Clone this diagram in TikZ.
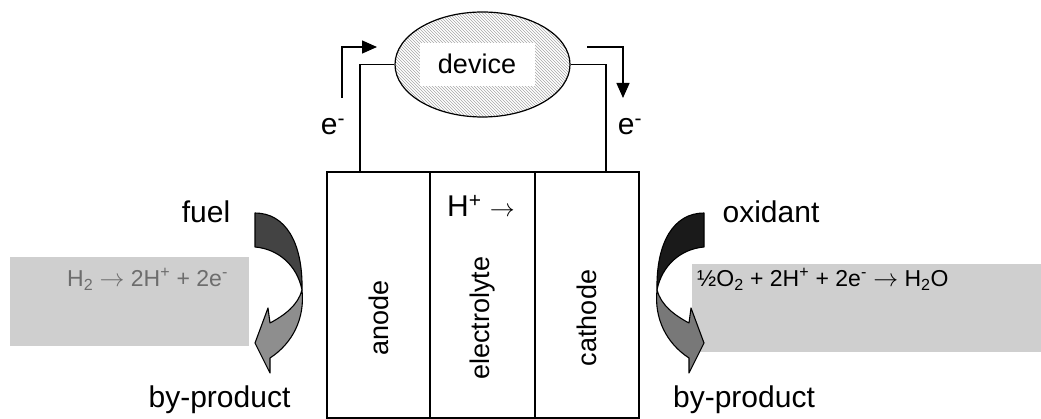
\documentclass[tikz,border=0pt]{standalone}
\usepackage{fontspec}
\setmainfont{Liberation Sans}
\usetikzlibrary{patterns,arrows.meta,shapes.geometric}
\definecolor{boxgray}{HTML}{CFCFCF}
\definecolor{eqgray}{HTML}{6D6D6D}
\definecolor{fueldark}{HTML}{434343}
\definecolor{fuellight}{HTML}{8E8E8E}
\definecolor{oxdark}{HTML}{1A1A1A}
\definecolor{oxlight}{HTML}{787878}
\newcommand\bigf{\fontsize{30}{36}\selectfont}
\newcommand\midf{\fontsize{27}{32}\selectfont}
\newcommand\eqf{\fontsize{23}{27}\selectfont}
\newcommand\fuelcellarrow[2]{%
  \filldraw[fill=#1, curv] (255,213) .. controls (285,213) and (303,242) .. (302,290)
     .. controls (297,265) and (278,249) .. (255,247) -- cycle;
  \filldraw[fill=#2, curv] (302,290) .. controls (305,318) and (293,343) .. (270,358)
     -- (270,373) -- (255,343) -- (268,308) -- (270,323)
     .. controls (285,315) and (298,305) .. (302,290) -- cycle;}
\begin{document}
\begin{tikzpicture}[x=1pt,y=-1pt,
  wire/.style={line width=1.4pt},
  col/.style={draw, line width=1.4pt, minimum height=246pt, inner sep=0pt},
  curv/.style={line width=1.1pt, line join=round},
  eboxl/.style={fill=boxgray, inner sep=0pt},
  lab/.style={font=\bigf, inner sep=0pt},
  etip/.style={-{Triangle[length=15pt,width=13pt]}}]
\useasboundingbox (0,0) rectangle (1041,419);
% grey reaction boxes
\node[eboxl, minimum width=239pt, minimum height=89pt] (leftbox) at (129.5,301.5) {};
\node[eboxl, minimum width=349pt, minimum height=88pt] (rightbox) at (866.5,308) {};
\node[anchor=base west, inner sep=0pt, font=\eqf, text=eqgray] (lefteq) at (67,287)
  {H\textsubscript{2} $\rightarrow$ 2H\textsuperscript{+} + 2e\textsuperscript{-}};
\node[anchor=base west, inner sep=0pt, font=\eqf] (righteq) at (697,287)
  {½O\textsubscript{2} + 2H\textsuperscript{+} + 2e\textsuperscript{-} $\rightarrow$ H\textsubscript{2}O};
% curved arrows
\fuelcellarrow{fueldark}{fuellight}
\begin{scope}[xshift=959pt, xscale=-1]
\fuelcellarrow{oxdark}{oxlight}
\end{scope}
% cell
\node[col, minimum width=103pt] (anode) at (378.5,295) {};
\node[col, minimum width=105pt] (electrolyte) at (482.5,295) {};
\node[col, minimum width=104pt] (cathode) at (587,295) {};
\node[rotate=90, font=\midf] (anodetxt) at (378.5,318) {anode};
\node[rotate=90, font=\midf] (electxt) at (482.5,318) {electrolyte};
\node[rotate=90, font=\midf] (cathtxt) at (587,318) {cathode};
\node[lab, anchor=base west] (hplus) at (447,217) {H\textsuperscript{+} $\rightarrow$};
% device
\node[ellipse, draw, line width=1.2pt, minimum width=175pt, minimum height=105pt,
  pattern=north west lines, pattern color=gray!70] (dev) at (482.5,64.5) {};
\node[fill=white, minimum width=115pt, minimum height=43pt] (devbg) at (477.5,64.5) {};
\node[anchor=base, font=\midf, inner sep=0pt] (devtxt) at (477,74) {device};
% wires
\coordinate (lwbot) at (360,172);
\coordinate (rwbot) at (606,172);
\draw[wire] (dev.west) -| (lwbot);
\draw[wire] (dev.east) -| (rwbot);
% electron arrows
\coordinate (ea1) at (342,98);
\coordinate (ea2) at (377,47);
\coordinate (eb1) at (587,47);
\coordinate (eb2) at (623,98);
\draw[wire, etip] (ea1) |- (ea2);
\draw[wire, etip] (eb1) -| (eb2);
\node[lab, anchor=base] (eleft) at (333,135) {e\textsuperscript{-}};
\node[lab, anchor=base] (eright) at (630,135) {e\textsuperscript{-}};
% labels
\node[lab, anchor=base] (fuel) at (206,223) {fuel};
\node[lab, anchor=base] (oxidant) at (771,223) {oxidant};
\node[lab, anchor=base] (bpl) at (219.5,407) {by-product};
\node[lab, anchor=base] (bpr) at (744,407) {by-product};
\end{tikzpicture}
\end{document}
